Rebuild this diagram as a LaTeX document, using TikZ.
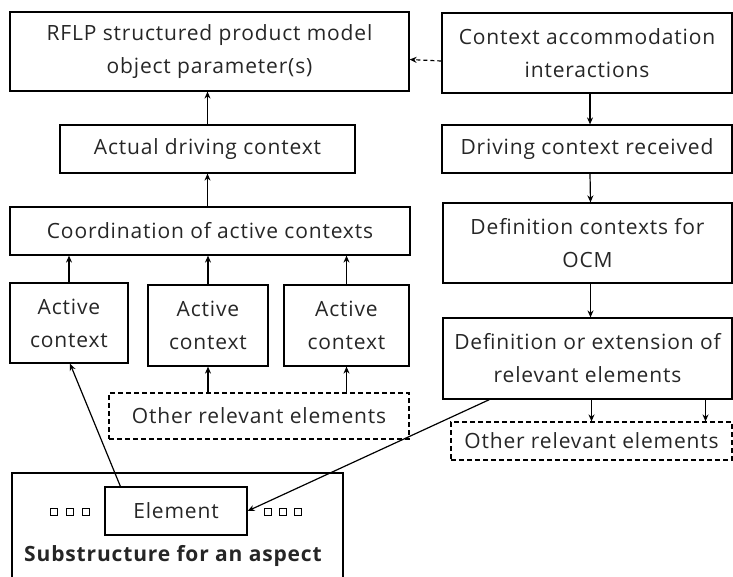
\documentclass[tikz,border=0pt]{standalone}
\usepackage{fontspec}
\setmainfont{Open Sans}[LetterSpace=4]
\usetikzlibrary{arrows.meta}

\begin{document}
\begin{tikzpicture}[x=1pt,y=-1pt,
    box/.style={draw,line width=1.2pt,align=center,inner sep=0pt,text=black!85,font=\fontsize{21}{33}\selectfont},
    dbox/.style={box,dash pattern=on 5pt off 3pt},
    arr/.style={line width=1.2pt,-{Stealth[length=7pt,width=6pt]}},
    dot/.style={draw,line width=1pt,minimum size=7pt,inner sep=0pt}]
    \useasboundingbox (0,0) rectangle (733,576);
    % left column
    \node[box,minimum width=399,minimum height=79] (rflp) at (209.5,51.5) {RFLP structured product model\\object parameter(s)};
    \node[box,minimum width=295,minimum height=48] (adc) at (207.5,149) {Actual driving context};
    \node[box,minimum width=400,minimum height=48] (coord) at (210,231) {Coordination of active contexts};
    \node[box,minimum width=118,minimum height=80] (act1) at (69,323) {Active\\context};
    \node[box,minimum width=120,minimum height=81] (act2) at (208,325.5) {Active\\context};
    \node[box,minimum width=125,minimum height=81] (act3) at (346.5,325.5) {Active\\context};
    \node[dbox,minimum width=300,minimum height=46] (oreL) at (259,416) {Other relevant elements};
    % right column
    \node[box,minimum width=290,minimum height=80] (cai) at (587,53) {Context accommodation\\interactions};
    \node[box,minimum width=290,minimum height=48] (dcr) at (587,149) {Driving context received};
    \node[box,minimum width=289,minimum height=80] (dco) at (587.5,243) {Definition contexts for\\OCM};
    \node[box,minimum width=289,minimum height=81] (dext) at (587.5,358.5) {Definition or extension of\\relevant elements};
    \node[dbox,minimum width=281,minimum height=38] (oreR) at (591.5,441) {Other relevant elements};
    % substructure
    \node[box,minimum width=331,minimum height=117] (sub) at (177.5,531.5) {};
    \node[box,minimum width=142,minimum height=48] (elem) at (176,511) {Element};
    \node[text=black!85,font=\fontsize{21}{24}\selectfont\bfseries] (subtxt) at (173,556) {Substructure for an aspect};
    \foreach \x in {54,70,86,267.5,282.5,297.5}
      \node[dot] at (\x,512) {};
    % connectors
    \draw[arr,dash pattern=on 4pt off 3pt] ([yshift=-8pt]cai.west) -- ([yshift=-8pt]rflp.east);
    \draw[arr] (adc.north) -- (rflp.south -| adc.north);
    \draw[arr] (coord.north -| adc.south) -- (adc.south);
    \foreach \a in {act1,act2,act3}
      \draw[arr] (\a.north) -- (\a.north |- coord.south);
    \draw[arr] (oreL.north -| act2.south) -- (act2.south);
    \draw[arr] (oreL.north -| act3.south) -- (act3.south);
    \draw[arr] ([xshift=3pt]cai.south) -- ([xshift=3pt]dcr.north);
    \draw[arr] ([xshift=3pt]dcr.south) -- ([xshift=3pt]dco.north);
    \draw[arr] ([xshift=3pt]dco.south) -- ([xshift=3pt]dext.north);
    \draw[arr] ([xshift=4pt]dext.south) -- ([xshift=4pt]dext.south |- oreR.north);
    \draw[arr] ([xshift=118pt]dext.south) -- ([xshift=118pt]dext.south |- oreR.north);
    \draw[arr] ([xshift=16pt]elem.north west) -- ([xshift=1pt]act1.south);
    \draw[arr] ([xshift=47pt]dext.south west) -- (elem.east);
  \end{tikzpicture}
\end{document}
